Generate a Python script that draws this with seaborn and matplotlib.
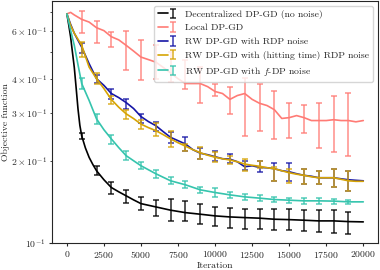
"""Objective function vs. iteration for the DP-GD variants (log scale)."""

import matplotlib
matplotlib.use("Agg")
import matplotlib.pyplot as plt
import numpy as np
import seaborn as sns
from matplotlib.legend_handler import HandlerTuple

# ---------------------------------------------------------------------------
# Data
# ---------------------------------------------------------------------------

LABELS = [
    "Decentralized DP-GD (no noise)",
    "Local DP-GD",
    "RW DP-GD with RDP noise",
    "RW DP-GD with (hitting time) RDP noise",
    "RW DP-GD with $f$-DP noise",
]
COLORS = ["#000000", "#ff7b75", "#1616a6", "#d6a404", "#35c4ad"]

black_x = [0, 125, 250, 375, 500, 625, 750, 875, 1000, 1250, 1500, 1750, 2000,
           2500, 3000, 3500, 4000, 4500, 5000,
           6000, 7000, 8000, 9000, 10000, 11000, 12000, 13000, 14000, 15000,
           16000, 17000, 18000, 19000, 20000]
black_y = [0.691, 0.63, 0.57, 0.50, 0.44, 0.37, 0.31, 0.27, 0.247, 0.223, 0.206, 0.194, 0.184,
           0.1705, 0.1597, 0.154, 0.1489, 0.1439, 0.1394,
           0.1356, 0.1319, 0.1292, 0.1275, 0.1257, 0.1246, 0.1239, 0.1233, 0.1222, 0.1218,
           0.1212, 0.1205, 0.1205, 0.1198, 0.1195]

red_x = [0, 250, 500, 1000, 1500, 2000, 2500, 3000, 3500, 4000, 4500, 5000,
         5500, 6000, 6500, 7000, 7500, 8000, 8500, 9000, 9500, 10000,
         10500, 11000, 11500, 12000, 12500, 13000, 13500, 14000, 14500, 15000,
         15500, 16000, 16500, 17000, 17500, 18000, 18500, 19000, 19500, 20000]
red_y = [0.691, 0.70, 0.685, 0.66, 0.645, 0.615, 0.60, 0.57, 0.555, 0.53, 0.505, 0.48,
         0.47, 0.46, 0.44, 0.42, 0.40, 0.384, 0.384, 0.384, 0.374, 0.359,
         0.353, 0.336, 0.347, 0.353, 0.336, 0.325, 0.319, 0.308, 0.286, 0.288,
         0.293, 0.288, 0.281, 0.281, 0.281, 0.283, 0.281, 0.281, 0.278, 0.281]

rw_x = [0, 250, 500, 750, 1000, 1500, 2000, 2500, 3000, 3500, 4000, 4500, 5000,
        5500, 6000, 6500, 7000, 7500, 8000, 8500, 9000, 9500, 10000,
        10500, 11000, 11500, 12000, 12500, 13000, 13500, 14000, 14500, 15000,
        15500, 16000, 16500, 17000, 17500, 18000, 18500, 19000, 19500, 20000]
blue_y = [0.691, 0.633, 0.587, 0.553, 0.522, 0.454, 0.40, 0.378, 0.353, 0.341, 0.327, 0.311, 0.2906,
          0.2786, 0.2692, 0.2559, 0.2438, 0.2371, 0.2306, 0.2198, 0.2133, 0.2106, 0.2071,
          0.2036, 0.2029, 0.1985, 0.1903, 0.1919, 0.1892, 0.1887, 0.1871, 0.184, 0.1824,
          0.1794, 0.177, 0.1756, 0.1734, 0.1734, 0.1734, 0.1719, 0.1705, 0.1697, 0.169]
gold_y = [0.691, 0.628, 0.587, 0.558, 0.53, 0.441, 0.40, 0.368, 0.3356, 0.3144, 0.2974, 0.2857, 0.2727,
          0.2647, 0.2581, 0.2495, 0.2406, 0.2331, 0.2264, 0.2198, 0.2142, 0.2098, 0.2062,
          0.2036, 0.2014, 0.1985, 0.1947, 0.1926, 0.1911, 0.1887, 0.1871, 0.184, 0.1809,
          0.1787, 0.177, 0.1748, 0.1734, 0.1734, 0.1734, 0.1712, 0.169, 0.1683, 0.1683]

cyan_x = [0, 250, 500, 750, 1000, 1500, 2000, 2500, 3000, 3500, 4000, 4500, 5000,
          6000, 7000, 8000, 9000, 10000, 11000, 12000, 13000, 14000, 15000,
          16000, 17000, 18000, 19000, 20000]
cyan_y = [0.691, 0.602, 0.53, 0.45, 0.384, 0.333, 0.285, 0.260, 0.2406, 0.2236, 0.2089, 0.2002, 0.1919,
          0.1794, 0.169, 0.1634, 0.1566, 0.1531, 0.1501, 0.1476, 0.146, 0.1443, 0.1435,
          0.1427, 0.1427, 0.1424, 0.1415, 0.1415]

# error bars every 1000 iterations (lower / upper ends)
bar_x = [1000, 2000, 3000, 4000, 5000, 6000, 7000, 8000, 9000, 10000,
         11000, 12000, 13000, 14000, 15000, 16000, 17000, 18000, 19000]
black_lo = [0.2412, 0.1778, 0.1518, 0.1406, 0.1322, 0.1257, 0.1205, 0.1205, 0.1175, 0.1155,
            0.1138, 0.1126, 0.1126, 0.1116, 0.1116, 0.1107, 0.1098, 0.1092, 0.1082]
black_hi = [0.2537, 0.1908, 0.1676, 0.1566, 0.1476, 0.1439, 0.1451, 0.1427, 0.1391, 0.1356,
            0.1348, 0.1334, 0.1334, 0.1334, 0.1328, 0.1322, 0.1322, 0.1316, 0.1303]
red_lo = [0.587, 0.539, 0.521, 0.429, 0.394, 0.40, 0.39, 0.368, 0.327, 0.347,
          0.298, 0.2474, 0.2581, 0.2412, 0.2432, 0.2537, 0.2236, 0.2161, 0.2089]
red_hi = [0.707, 0.649, 0.592, 0.597, 0.553, 0.53, 0.50, 0.47, 0.44, 0.384,
          0.3715, 0.401, 0.384, 0.36, 0.327, 0.3217, 0.327, 0.347, 0.356]
blue_lo = [0.4953, 0.387, 0.3384, 0.311, 0.2762, 0.2581, 0.2331, 0.2179, 0.2036, 0.20,
           0.1971, 0.185, 0.1814, 0.169, 0.169, 0.1644, 0.1644, 0.1606, 0.1553]
blue_hi = [0.539, 0.411, 0.368, 0.3384, 0.298, 0.2786, 0.2559, 0.2453, 0.2236, 0.2179,
           0.2122, 0.199, 0.20, 0.1971, 0.1971, 0.1866, 0.184, 0.1866, 0.1829]
gold_lo = [0.48, 0.383, 0.3244, 0.2857, 0.2618, 0.2475, 0.2254, 0.2179, 0.2031, 0.1974,
           0.1947, 0.184, 0.188, 0.169, 0.1665, 0.1644, 0.1644, 0.1606, 0.1553]
gold_hi = [0.545, 0.419, 0.347, 0.306, 0.2812, 0.2746, 0.2566, 0.2312, 0.2254, 0.2146,
           0.2089, 0.2036, 0.20, 0.1892, 0.1866, 0.1866, 0.184, 0.1866, 0.1829]
cyan_lo = [0.368, 0.274, 0.2312, 0.2014, 0.1866, 0.1734, 0.1644, 0.1597, 0.1523, 0.1476,
           0.146, 0.1435, 0.1427, 0.1415, 0.1403, 0.1395, 0.1395, 0.1388, 0.1388]
cyan_hi = [0.401, 0.298, 0.2495, 0.2166, 0.1974, 0.1855, 0.1739, 0.1681, 0.161, 0.1597,
           0.1544, 0.1518, 0.1495, 0.1476, 0.1464, 0.146, 0.146, 0.1451, 0.1443]

SERIES = [
    (black_x, black_y, black_lo, black_hi),
    (red_x, red_y, red_lo, red_hi),
    (rw_x, blue_y, blue_lo, blue_hi),
    (rw_x, gold_y, gold_lo, gold_hi),
    (cyan_x, cyan_y, cyan_lo, cyan_hi),
]

# ---------------------------------------------------------------------------
# Style
# ---------------------------------------------------------------------------

sns.set_style("ticks")
plt.rcParams.update({
    "font.family": "serif",
    "font.serif": ["cmr10"],
    "mathtext.fontset": "cm",
    "axes.unicode_minus": False,
    "axes.formatter.use_mathtext": True,
    "font.size": 7,
})

fig, ax = plt.subplots(figsize=(3.8, 2.7), dpi=100)
fig.subplots_adjust(left=0.137, right=0.995, bottom=0.1, top=0.996)

handles = []
for (xs, ys, lo, hi), color in zip(SERIES, COLORS):
    sns.lineplot(x=xs, y=ys, color=color, linewidth=1.2, ax=ax)
    line = ax.get_lines()[-1]
    lo = np.asarray(lo)
    hi = np.asarray(hi)
    eb = ax.errorbar(bar_x, (lo + hi) / 2, yerr=(hi - lo) / 2, fmt="none",
                     ecolor=color, elinewidth=1.1, capsize=2.4, capthick=1.1, alpha=0.85)
    handles.append((line, eb))

ax.set_yscale("log")
ax.set_ylim(0.1, 0.77)
ax.set_xticks([0, 2500, 5000, 7500, 10000, 12500, 15000, 17500, 20000])
ax.set_xlabel("Iteration", labelpad=1)
ax.set_ylabel("Objective function", labelpad=1)
ax.tick_params(which="major", labelsize=7, length=2.5, width=0.8, pad=2)
ax.tick_params(which="minor", labelsize=7, length=1.5, width=0.6, pad=2)

ax.legend(handles=handles, labels=LABELS, loc="upper right", fontsize=7,
          handler_map={tuple: HandlerTuple(ndivide=None, pad=0)})

fig.savefig("out.png", dpi=100)
plt.close(fig)
